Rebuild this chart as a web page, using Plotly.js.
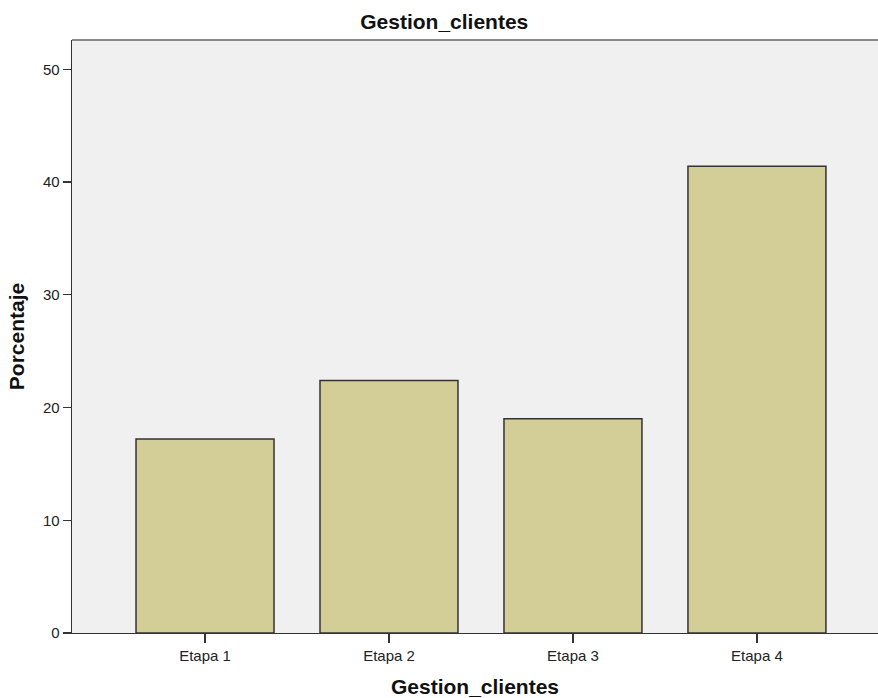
<!DOCTYPE html>
<html>
<head>
<meta charset="utf-8">
<script src="https://cdn.plot.ly/plotly-3.0.1.min.js"></script>
<style>
html,body{margin:0;padding:0;background:#fff;}
#chart{width:878px;height:698px;}
</style>
</head>
<body>
<div id="chart"></div>
<script>
const categories = ["Etapa 1", "Etapa 2", "Etapa 3", "Etapa 4"];
const porcentaje = [17.2, 22.4, 19.0, 41.4];
const yTicks = [0, 10, 20, 30, 40, 50];

const trace = {
  type: "bar",
  x: categories,
  y: porcentaje,
  width: 0.75,
  marker: {color: "#d3ce97", line: {color: "#333333", width: 1.5}},
  hoverinfo: "x+y"
};

const layout = {
  width: 878, height: 698,
  margin: {l: 72, r: 0, t: 40, b: 65},
  paper_bgcolor: "#ffffff",
  plot_bgcolor: "#f0f0f0",
  font: {family: "Liberation Sans, Arial, sans-serif", color: "#222"},
  showlegend: false,
  title: {
    text: "<b>Gestion_clientes</b>",
    font: {size: 21, color: "#111"},
    x: 0.506, xanchor: "center",
    y: 0.969, yanchor: "middle"
  },
  xaxis: {
    type: "category",
    range: [-0.723, 3.658],
    showgrid: false, zeroline: false,
    showline: true, linecolor: "#333", linewidth: 1.3,
    ticks: "outside", ticklen: 9, tickcolor: "#333", tickwidth: 1.3,
    tickfont: {size: 15, color: "#222"},
    title: {text: "<b>Gestion_clientes</b>", font: {size: 21, color: "#111"}, standoff: 17}
  },
  yaxis: {
    range: [0, 52.6],
    tickvals: yTicks,
    showgrid: false, zeroline: false,
    showline: true, linecolor: "#333", linewidth: 1.3,
    ticks: "outside", ticklen: 8, tickcolor: "#333", tickwidth: 1.3,
    tickfont: {size: 15, color: "#222"},
    title: {text: "<b>Porcentaje</b>", font: {size: 21, color: "#111"}, standoff: 12}
  },
  shapes: [{
    type: "line", xref: "paper", yref: "paper",
    x0: 0, x1: 1, y0: 1, y1: 1,
    line: {color: "#888", width: 2}
  }],
  bargap: 0.25
};

Plotly.newPlot("chart", [trace], layout, {displayModeBar: false, staticPlot: true});
</script>
</body>
</html>
